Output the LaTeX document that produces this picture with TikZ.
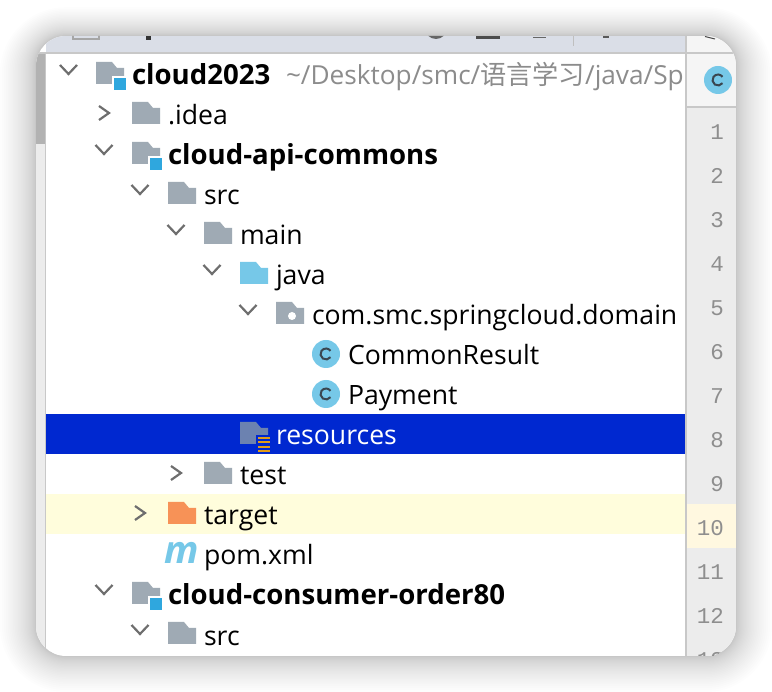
\documentclass[tikz,border=0pt]{standalone}
\usepackage{fontspec}
\setmainfont{Open Sans}
\newfontfamily\cjkf{Noto Sans CJK SC}
\newfontfamily\monof{Liberation Mono}
\usetikzlibrary{calc}
\definecolor{fold}{HTML}{9FAAB4}
\definecolor{badge}{HTML}{2FA7DE}
\definecolor{chev}{HTML}{6E6E6E}
\definecolor{cblue}{HTML}{76C8E8}
\definecolor{cdark}{HTML}{3A4650}
\definecolor{gut}{HTML}{ECECEC}
\definecolor{sep}{HTML}{C8C8C8}
\definecolor{barc}{HTML}{DADEE7}
\definecolor{pathc}{HTML}{8C8C8C}
\definecolor{sel}{HTML}{0028D0}
\definecolor{yel}{HTML}{FFFDDC}
\definecolor{yelg}{HTML}{FFF8E0}
\definecolor{lnum}{HTML}{8E8E8E}
\definecolor{resf}{HTML}{6C82B0}
\definecolor{tgtc}{HTML}{F79257}
\definecolor{stripe}{HTML}{E09B1A}
\tikzset{
  x=1pt,y=-1pt,
  rowtext/.style={anchor=base west,inner sep=0pt,outer sep=0pt,text=black,font=\fontsize{26.6}{30}\selectfont},
  boldtext/.style={rowtext,font=\fontsize{27.6}{30}\selectfont\bfseries},
  linenum/.style={anchor=base east,inner sep=0pt,text=lnum,font=\monof\fontsize{22.5}{26}\selectfont},
  chevline/.style={draw=chev,line width=2.2pt,line cap=butt,line join=miter},
}
\newcommand{\folderic}[3]{\fill[#3] (#1,#2-13) -- (#1+16,#2-13) -- (#1+21,#2-7) -- (#1+28,#2-7) -- (#1+28,#2+9) -- (#1,#2+9) -- cycle;}
\newcommand{\modic}[2]{\folderic{#1}{#2}{fold}
  \fill[white] (#1+16,#2+1) rectangle (#1+30,#2+15);
  \fill[badge] (#1+18,#2+3) rectangle (#1+30,#2+15);}
\newcommand{\chevd}[2]{\draw[chevline] (#1-8.5,#2-7) -- (#1,#2+2) -- (#1+8.5,#2-7);}
\newcommand{\chevr}[2]{\draw[chevline] (#1-5,#2-8) -- (#1+5,#2-1) -- (#1-5,#2+6);}
\newcommand{\classic}[2]{\fill[cblue] (#1,#2) circle (14);
  \draw[cdark,line width=2pt] ($(#1,#2)+(35:5.5)$) arc (35:325:5.5);}
\begin{document}
\begin{tikzpicture}
\useasboundingbox (0,0) rectangle (772,692);
\fill[white] (0,0) rectangle (772,692);
% soft shadow: many faint layers, crowded close to the window
\foreach \i in {1,...,30}{
  \pgfmathsetmacro{\e}{36*pow((31-\i)/30,1.7)}
  \pgfmathsetmacro{\r}{30+\e}
  \fill[black,opacity=0.0065,rounded corners=\r pt] ({36-\e},{36-0.8*\e}) rectangle ({736+\e},{656+\e});
}
\begin{scope}
\clip[rounded corners=30pt] (36,36) rectangle (736,656);
\fill[white] (36,36) rectangle (736,656);
\fill[barc] (46,36) rectangle (685,52);
\fill[gray!8] (686,36) rectangle (736,106);
\fill[sep] (36,52) rectangle (736,54);
\fill[sep] (686,106) rectangle (736,108);
\fill[gut] (36,54) rectangle (45,656);
\fill[black!30] (36,54) rectangle (45,144);
\fill[sep] (45,54) rectangle (46,656);
\fill[gut] (686,108) rectangle (736,656);
\fill[yelg] (686,504) rectangle (736,548);
\fill[sep] (684.5,36) rectangle (686.5,656);
\fill[sel] (46,414) rectangle (684.5,454);
\fill[yel] (46,494) rectangle (684.5,534);
% toolbar fragments
\draw[black!35,line width=1.5pt] (73,30) rectangle (99,39);
\fill[black!70] (476,36) rectangle (500,39.5);
\fill[black!60] (436,28) circle (11);
\fill[black!60] (533,37) rectangle (546,38.5);
\fill[black!25] (572.5,36) rectangle (574,46);
\fill[black!65] (603,36) rectangle (609,38.5);
\fill[black!80] (146,36) rectangle (151,40);
\draw[black!70,line width=1pt] (705,36.5) -- (715,39);
\classic{718}{80}
% icons
\chevd{68.5}{72}\modic{96}{75}
\chevr{104}{114}\folderic{132}{115}{fold}
\chevd{104}{152}\modic{132}{155}
\chevd{140}{192}\folderic{168}{195}{fold}
\chevd{176}{232}\folderic{204}{235}{fold}
\chevd{212}{272}\folderic{240}{275}{cblue}
\chevd{248}{312}\folderic{276}{315}{fold}
\fill[white] (292,316) circle (4);
\classic{326}{354}
\classic{326}{394}
\folderic{240}{435}{resf}
\fill[sel] (256,435) rectangle (272,452);
\foreach \yy in {437,441.5,446,450}{\fill[stripe] (258,\yy) rectangle (270,\yy+1.7);}
\chevr{176}{474}\folderic{204}{475}{fold}
\chevr{140}{514}\folderic{168}{515}{tgtc}
\chevd{104}{592}\modic{132}{595}
\chevd{140}{632}\folderic{168}{635}{fold}
\node[anchor=base,inner sep=0pt,text=cblue,font=\fontsize{38}{40}\selectfont\bfseries\itshape] (micon) at (182,564) {m};
% texts
\node[boldtext] (root) at (132,85) {cloud2023};
\node[rowtext,text=pathc] (rootpath) at (286,85) {\fontsize{26.2}{30}\selectfont \char`\~/Desktop/smc/{\cjkf 语言学习}/java/Sp};
\node[rowtext] (idea) at (168,125) {.idea};
\node[boldtext] (api) at (168,165) {cloud-api-commons};
\node[rowtext] (src1) at (204,205) {src};
\node[rowtext] (main) at (240,245) {main};
\node[rowtext] (java) at (276,285) {java};
\node[rowtext] (pkg) at (312,325) {com.smc.springcloud.domain};
\node[rowtext] (cr) at (348,365) {CommonResult};
\node[rowtext] (pay) at (348,405) {Payment};
\node[rowtext,text=white] (res) at (276,445) {resources};
\node[rowtext] (test) at (240,485) {test};
\node[rowtext] (tgt) at (204,525) {target};
\node[rowtext] (pom) at (204,565) {pom.xml};
\node[boldtext] (order) at (168,605) {cloud-consumer-order80};
\node[rowtext] (src2) at (204,645) {src};
\foreach \n/\yy in {1/139.5,2/183.5,3/227.5,4/271.5,5/315.5,6/359.5,7/403.5,8/447.5,9/491.5,10/535.5,11/579.5,12/623.5,13/667.5}{
  \node[linenum] (ln\n) at (724,\yy) {\n};
}
\end{scope}
\end{tikzpicture}
\end{document}
